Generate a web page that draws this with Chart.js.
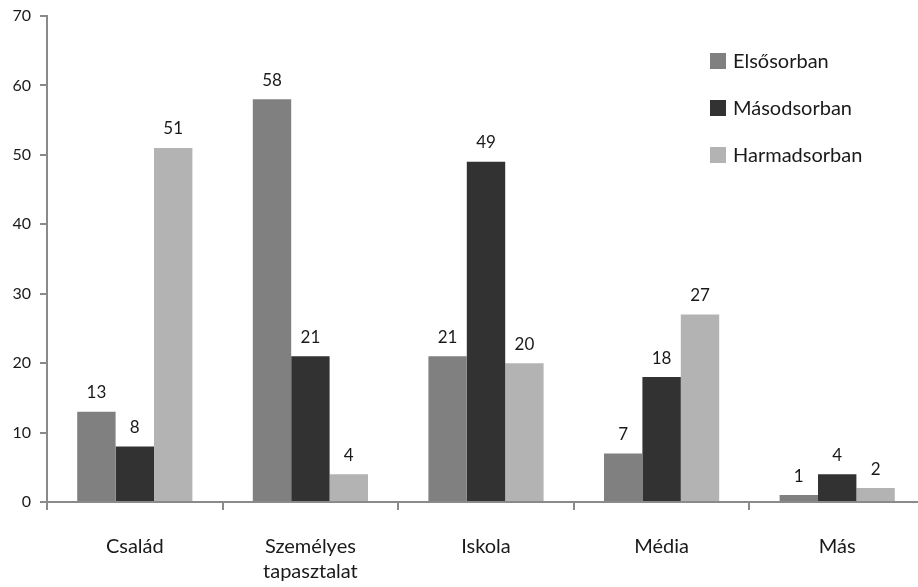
<!DOCTYPE html>
<html>
<head>
<meta charset="utf-8">
<script src="https://cdn.jsdelivr.net/npm/chart.js@4/dist/chart.umd.min.js"></script>
<style>
  html, body { margin: 0; padding: 0; background: #fff; overflow: hidden; }
  #wrap { width: 925px; height: 587px; }
</style>
</head>
<body>
<div id="wrap"><canvas id="chart" width="925" height="587"></canvas></div>
<script>
const categories = [['Család'], ['Személyes', 'tapasztalat'], ['Iskola'], ['Média'], ['Más']];
const elsosorban = [13, 58, 21, 7, 1];
const masodsorban = [8, 21, 49, 18, 4];
const harmadsorban = [51, 4, 20, 27, 2];
const seriesNames = ['Elsősorban', 'Másodsorban', 'Harmadsorban'];
const seriesColors = ['#808080', '#323232', '#b3b3b3'];

const FONT = 'Lato, "Open Sans", sans-serif';
const TEXT = '#1a1a1a';
const AXIS = '#8a8a8a';

// values above each bar
const valueLabels = {
    id: 'valueLabels',
    afterDatasetsDraw(chart) {
        const ctx = chart.ctx;
        ctx.save();
        ctx.font = '17px ' + FONT;
        ctx.fillStyle = TEXT;
        ctx.textAlign = 'center';
        ctx.textBaseline = 'middle';
        chart.data.datasets.forEach(function (ds, i) {
            chart.getDatasetMeta(i).data.forEach(function (bar, j) {
                ctx.fillText(ds.data[j], bar.x, bar.y - 19);
            });
        });
        ctx.restore();
    }
};

// legend drawn inside the plot, top right
const boxLegend = {
    id: 'boxLegend',
    afterDraw(chart) {
        const ctx = chart.ctx;
        ctx.save();
        ctx.font = '20px ' + FONT;
        ctx.textBaseline = 'middle';
        ctx.textAlign = 'left';
        chart.data.datasets.forEach(function (ds, i) {
            const y = 61 + i * 47;
            ctx.fillStyle = ds.backgroundColor;
            ctx.fillRect(710, y - 8, 16, 16);
            ctx.fillStyle = TEXT;
            ctx.fillText(ds.label, 733, y + 1);
        });
        ctx.restore();
    }
};

const data = {
    labels: categories,
    datasets: [elsosorban, masodsorban, harmadsorban].map(function (vals, i) {
        return {
            label: seriesNames[i],
            data: vals,
            backgroundColor: seriesColors[i],
            borderWidth: 0,
            categoryPercentage: 0.656,
            barPercentage: 1
        };
    })
};

const config = {
    type: 'bar',
    data: data,
    options: {
        responsive: false,
        animation: false,
        layout: {
            padding: { top: 16, left: 0, right: 0, bottom: 0 }
        },
        plugins: {
            legend: { display: false },
            tooltip: { enabled: false }
        },
        scales: {
            x: {
                offset: true,
                border: { color: AXIS, width: 2 },
                grid: {
                    offset: true,
                    drawOnChartArea: false,
                    color: AXIS,
                    lineWidth: 2,
                    tickLength: 8
                },
                ticks: {
                    color: TEXT,
                    font: { family: FONT, size: 20, lineHeight: 1.25 },
                    padding: 24,
                    maxRotation: 0
                },
                afterFit: function (s) { s.height = 85; }
            },
            y: {
                min: 0,
                max: 70,
                border: { color: AXIS, width: 2 },
                grid: {
                    drawOnChartArea: false,
                    color: AXIS,
                    lineWidth: 2,
                    tickLength: 7
                },
                ticks: {
                    stepSize: 10,
                    color: TEXT,
                    font: { family: FONT, size: 16 },
                    padding: 9
                },
                afterFit: function (s) {
                    s.width = 47;
                    s.paddingTop = 0;
                    s.paddingBottom = 0;
                }
            }
        }
    },
    plugins: [valueLabels, boxLegend]
};

const myChart = new Chart(document.getElementById('chart'), config);
</script>
</body>
</html>
